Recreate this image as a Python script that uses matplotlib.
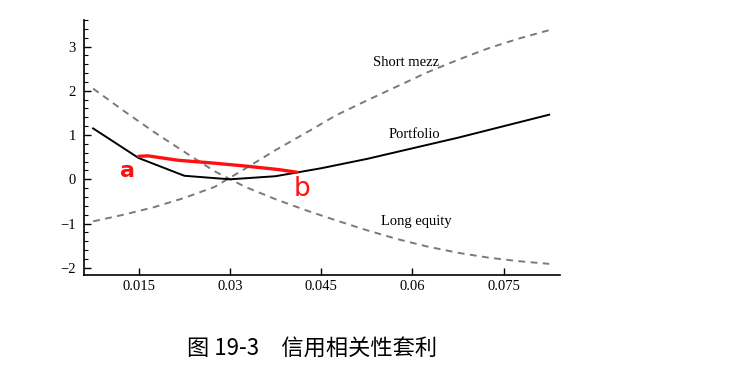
import matplotlib
matplotlib.use("Agg")
import matplotlib.pyplot as plt
from matplotlib.ticker import MultipleLocator

# ---------------- data ----------------
x_dash = [0.0075, 0.0125, 0.0175, 0.0225, 0.0275, 0.0325, 0.0375, 0.0425,
          0.0475, 0.0525, 0.0575, 0.0625, 0.0675, 0.0725, 0.0775, 0.0825]
short_mezz = [-0.95, -0.80, -0.63, -0.42, -0.17, 0.24, 0.66, 1.05,
              1.45, 1.78, 2.10, 2.42, 2.70, 2.96, 3.18, 3.37]
long_equity = [2.05, 1.55, 1.07, 0.62, 0.18, -0.17, -0.45, -0.70,
               -0.93, -1.15, -1.35, -1.52, -1.66, -1.77, -1.85, -1.91]

x_port = [0.0075, 0.015, 0.0225, 0.03, 0.0375, 0.045, 0.0525, 0.06, 0.0675, 0.075, 0.0825]
portfolio = [1.15, 0.48, 0.08, 0.0, 0.07, 0.25, 0.46, 0.70, 0.94, 1.20, 1.46]

# hand-drawn red stroke from a to b
x_red = [0.015, 0.0165, 0.0215, 0.027, 0.0325, 0.038, 0.041]
y_red = [0.52, 0.53, 0.43, 0.37, 0.30, 0.22, 0.16]

x_ticks = [0.015, 0.03, 0.045, 0.06, 0.075]
x_ticklabels = ["0.015", "0.03", "0.045", "0.06", "0.075"]
y_ticks = [-2, -1, 0, 1, 2, 3]

caption = "图 19-3　信用相关性套利"

# ---------------- figure ----------------
serif = ["Liberation Serif", "DejaVu Serif"]
fig = plt.figure(figsize=(7.37, 3.70), dpi=100)
ax = fig.add_axes([0.114, 0.257, 0.646, 0.689])

dash_style = dict(color="#7a7a7a", lw=1.4, ls=(0, (3.5, 2.8)))
ax.plot(x_dash, short_mezz, **dash_style)
ax.plot(x_dash, long_equity, **dash_style)
ax.plot(x_port, portfolio, color="black", lw=1.4)
ax.plot(x_red, y_red, color="#ff1010", lw=2.4, solid_capstyle="round")

ax.text(0.0589, 2.63, "Short mezz", ha="center", va="center", fontsize=10.5, family=serif)
ax.text(0.0604, 1.01, "Portfolio", ha="center", va="center", fontsize=10.5, family=serif)
ax.text(0.0607, -0.96, "Long equity", ha="center", va="center", fontsize=10.5, family=serif)

ax.text(0.0132, 0.18, "a", color="#ff1010", ha="center", va="center", fontsize=16, fontweight="bold")
ax.text(0.0419, -0.22, "b", color="#ff1010", ha="center", va="center", fontsize=19)

ax.set_xlim(0.006, 0.0843)
ax.set_ylim(-2.16, 3.6)
ax.set_xticks(x_ticks)
ax.set_xticklabels(x_ticklabels)
ax.set_yticks(y_ticks)
ax.yaxis.set_minor_locator(MultipleLocator(0.2))

for side in ["top", "right"]:
    ax.spines[side].set_visible(False)
for side in ["left", "bottom"]:
    ax.spines[side].set_linewidth(1.2)

ax.tick_params(axis="x", direction="in", length=5, width=1, pad=4, labelsize=10.5)
ax.tick_params(axis="y", which="major", direction="in", length=5, width=1, pad=6, labelsize=10.5)
ax.tick_params(axis="y", which="minor", direction="in", length=3, width=0.8)
for lab in ax.get_xticklabels() + ax.get_yticklabels():
    lab.set_family(serif)

fig.text(0.423, 0.059, caption, ha="center", va="center", fontsize=16,
         family=["Noto Sans CJK SC", "DejaVu Sans"])

fig.savefig("out.png", dpi=100)
